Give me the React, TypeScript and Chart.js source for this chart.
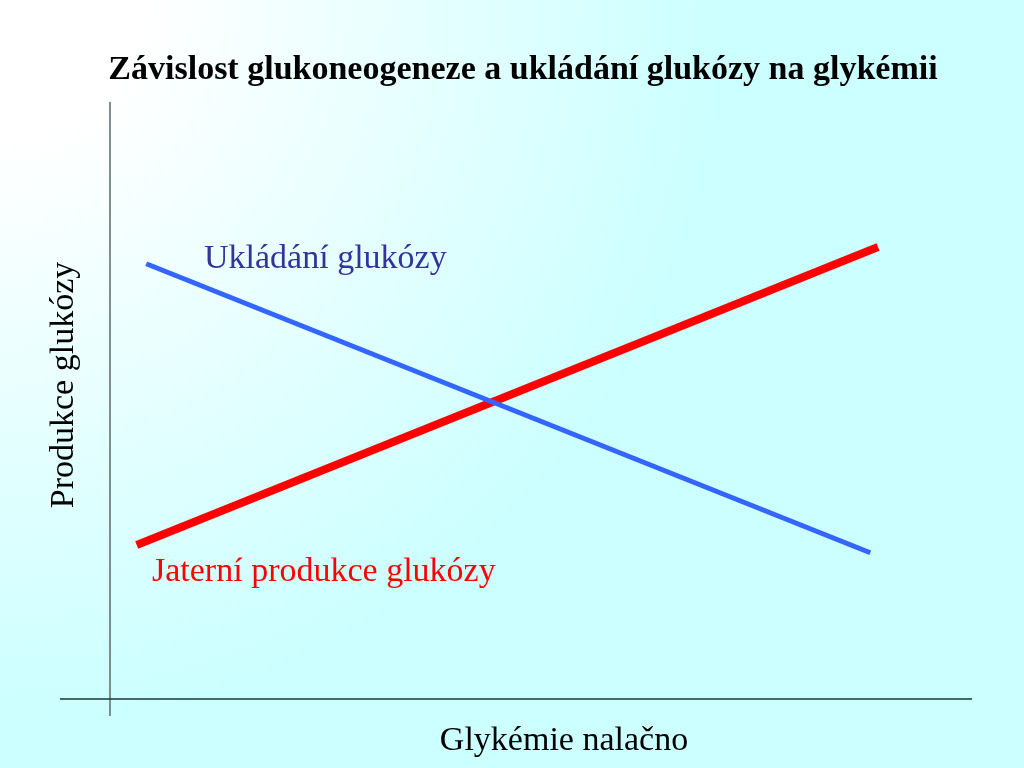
import React, { useEffect, useRef } from "react";
import { Chart, registerables } from "chart.js";

Chart.register(...registerables);

const titleText = "Závislost glukoneogeneze a ukládání glukózy na glykémii";
const xAxisTitle = "Glykémie nalačno";
const yAxisTitle = "Produkce glukózy";

const storageLabel = "Ukládání glukózy";
const storageX = [4.2, 88.2];
const storageY = [72.9, 24.5];

const productionLabel = "Jaterní produkce glukózy";
const productionX = [3.1, 89.1];
const productionY = [25.8, 75.7];

const overlay = {
  id: "overlay",
  afterDraw(chart: any) {
    const { ctx, chartArea } = chart;
    const { left, right, top, bottom } = chartArea;
    ctx.save();
    // axes
    ctx.lineWidth = 1.5;
    ctx.strokeStyle = "#5a6a6a";
    ctx.beginPath();
    ctx.moveTo(left, top);
    ctx.lineTo(left, bottom + 17);
    ctx.stroke();
    ctx.strokeStyle = "#1a3535";
    ctx.beginPath();
    ctx.moveTo(left - 50, bottom);
    ctx.lineTo(right, bottom);
    ctx.stroke();

    ctx.textBaseline = "middle";
    // title
    ctx.fillStyle = "#000000";
    ctx.font = "bold 34px 'Liberation Serif', 'Times New Roman', serif";
    ctx.textAlign = "center";
    ctx.fillText(titleText, 523, 70);

    // x axis title
    ctx.font = "34px 'Liberation Serif', 'Times New Roman', serif";
    ctx.fillText(xAxisTitle, 564, 741);

    // y axis title
    ctx.save();
    ctx.translate(64, 385);
    ctx.rotate(-Math.PI / 2);
    ctx.fillText(yAxisTitle, 0, 0);
    ctx.restore();

    // series labels
    ctx.textAlign = "left";
    ctx.fillStyle = "#333399";
    ctx.fillText(storageLabel, 204, 259);
    ctx.fillStyle = "#ff0000";
    ctx.fillText(productionLabel, 152, 572);
    ctx.restore();
  },
};

export default function App() {
  const ref = useRef<HTMLCanvasElement>(null);
  useEffect(() => {
    const canvas = ref.current;
    if (!canvas) return;
    const chart = new Chart(canvas, {
      type: "line",
      data: {
        datasets: [
          {
            label: storageLabel,
            data: storageX.map((x, i) => ({ x, y: storageY[i] })),
            borderColor: "#3366ff",
            borderWidth: 5,
            borderCapStyle: "butt",
            pointRadius: 0,
            order: 0,
          },
          {
            label: productionLabel,
            data: productionX.map((x, i) => ({ x, y: productionY[i] })),
            borderColor: "#ff0000",
            borderWidth: 8,
            borderCapStyle: "butt",
            pointRadius: 0,
            order: 1,
          },
        ],
      },
      options: {
        animation: false,
        responsive: false,
        events: [],
        layout: { padding: { left: 110, right: 52, top: 102, bottom: 69 } },
        scales: {
          x: { type: "linear", min: 0, max: 100, display: false },
          y: { type: "linear", min: 0, max: 100, display: false },
        },
        plugins: {
          legend: { display: false },
          tooltip: { enabled: false },
          title: { display: false },
        },
      },
      plugins: [overlay],
    });
    return () => chart.destroy();
  }, []);
  return (
    <div
      style={{
        position: "fixed",
        left: 0,
        top: 0,
        width: 1024,
        height: 768,
        background:
          "radial-gradient(circle 720px at 0px 0px, #ffffff 0%, #ffffff 20%, #ccffff 100%)",
      }}
    >
      <canvas ref={ref} width={1024} height={768} style={{ display: "block" }} />
    </div>
  );
}
